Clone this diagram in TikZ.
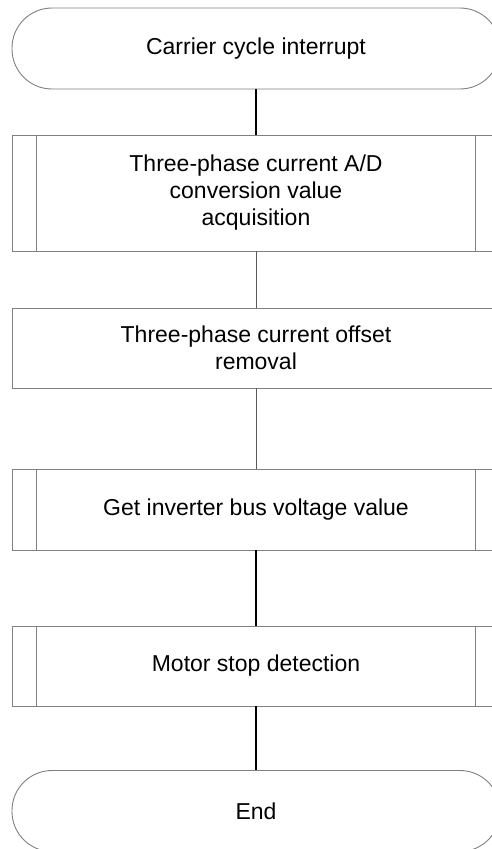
\documentclass[tikz,border=0pt]{standalone}
\usepackage{fontspec}
\setmainfont{Liberation Sans}
\begin{document}
\begin{tikzpicture}[x=1pt,y=-1pt,
  every node/.style={font=\fontsize{23}{27}\selectfont, align=center, inner sep=0pt},
  term/.style={draw=black!50, line width=0.9pt, rounded corners=40pt, minimum width=488pt, minimum height=81pt},
  proc/.style={draw=black!50, line width=0.9pt, minimum width=488pt},
  thick line/.style={line width=2.2pt, black},
  thin line/.style={line width=1pt, black!65}
]
\useasboundingbox (0,0) rectangle (491,849);
\node[term] (start) at (256,48.5) {Carrier cycle interrupt};
\node[proc, minimum height=116pt] (p1) at (256,193) {Three-phase current A/D\\conversion value\\acquisition};
\node[proc, minimum height=80pt] (p2) at (256,348) {Three-phase current offset\\removal};
\node[proc, minimum height=81pt] (p3) at (256,509.5) {Get inverter bus voltage value};
\node[proc, minimum height=80pt] (p4) at (256,666) {Motor stop detection};
\node[term] (end) at (256,811) {End};
\foreach \n in {p1,p3,p4}{
  \draw[black!50, line width=0.9pt] ([xshift=25pt]\n.north west) -- ([xshift=25pt]\n.south west);
  \draw[black!50, line width=0.9pt] ([xshift=-25pt]\n.north east) -- ([xshift=-25pt]\n.south east);
}
\draw[thick line] (start) -- (p1);
\draw[thin line] (p1) -- (p2);
\draw[thin line] (p2) -- (p3);
\draw[thick line] (p3) -- (p4);
\draw[thick line] (p4) -- (end);
\end{tikzpicture}
\end{document}
